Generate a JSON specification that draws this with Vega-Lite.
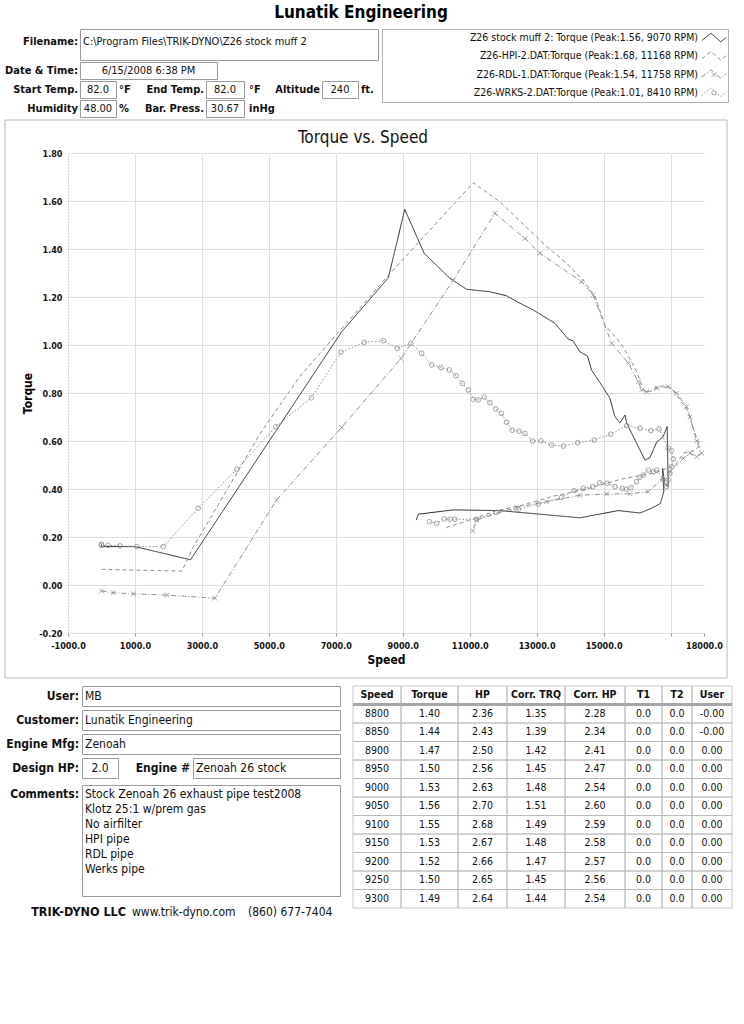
{
  "$schema": "https://vega.github.io/schema/vega-lite/v6.json",
  "padding": 0,
  "background": "white",
  "config": {
    "view": {"stroke": null},
    "font": "DejaVu Sans Condensed, Liberation Sans, sans-serif",
    "text": {"font": "DejaVu Sans Condensed, Liberation Sans, sans-serif", "fontSize": 11, "color": "#111"},
    "axis": {"labelFont": "DejaVu Sans Condensed, Liberation Sans, sans-serif", "titleFont": "DejaVu Sans Condensed, Liberation Sans, sans-serif"},
    "title": {"font": "DejaVu Sans Condensed, Liberation Sans, sans-serif"}
  },
  "datasets": {
    "series": [
      {"s": "stock", "label": "Z26 stock muff 2: Torque (Peak:1.56, 9070 RPM)"},
      {"s": "hpi", "label": "Z26-HPI-2.DAT:Torque (Peak:1.68, 11168 RPM)"},
      {"s": "rdl", "label": "Z26-RDL-1.DAT:Torque (Peak:1.54, 11758 RPM)"},
      {"s": "wrks", "label": "Z26-WRKS-2.DAT:Torque (Peak:1.01, 8410 RPM)"}
    ],
    "run": [
      {"f": "Title", "label": "Lunatik Engineering"},
      {"f": "Filename", "label": "Filename:", "value": "C:\\Program Files\\TRIK-DYNO\\Z26 stock muff 2"},
      {"f": "Date", "label": "Date & Time:", "value": "6/15/2008 6:38 PM"},
      {"f": "Start", "label": "Start Temp.", "value": "82.0", "unit": "°F"},
      {"f": "End", "label": "End Temp.", "value": "82.0", "unit": "°F"},
      {"f": "Alt", "label": "Altitude", "value": "240", "unit": "ft."},
      {"f": "Hum", "label": "Humidity", "value": "48.00", "unit": "%"},
      {"f": "Bar", "label": "Bar. Press.", "value": "30.67", "unit": "inHg"}
    ],
    "form": [
      {"f": "User", "label": "User:", "value": "MB"},
      {"f": "Customer", "label": "Customer:", "value": "Lunatik Engineering"},
      {"f": "Engine Mfg", "label": "Engine Mfg:", "value": "Zenoah"},
      {"f": "Design HP", "label": "Design HP:", "value": "2.0"},
      {"f": "Engine #", "label": "Engine #", "value": "Zenoah 26 stock"},
      {"f": "Comments", "label": "Comments:", "value": ["Stock Zenoah 26 exhaust pipe test2008", "Klotz 25:1 w/prem gas", "No airfilter", "HPI pipe", "RDL pipe", "Werks pipe"]},
      {"f": "Maker", "label": "TRIK-DYNO LLC", "value": "www.trik-dyno.com", "phone": "(860) 677-7404"}
    ],
    "table": [
      {"r": "h", "Speed": "Speed", "Torque": "Torque", "HP": "HP", "CorrTRQ": "Corr. TRQ", "CorrHP": "Corr. HP", "T1": "T1", "T2": "T2", "User": "User"},
      {"r": "1", "Speed": "8800", "Torque": "1.40", "HP": "2.36", "CorrTRQ": "1.35", "CorrHP": "2.28", "T1": "0.0", "T2": "0.0", "User": "-0.00"},
      {"r": "2", "Speed": "8850", "Torque": "1.44", "HP": "2.43", "CorrTRQ": "1.39", "CorrHP": "2.34", "T1": "0.0", "T2": "0.0", "User": "-0.00"},
      {"r": "3", "Speed": "8900", "Torque": "1.47", "HP": "2.50", "CorrTRQ": "1.42", "CorrHP": "2.41", "T1": "0.0", "T2": "0.0", "User": "0.00"},
      {"r": "4", "Speed": "8950", "Torque": "1.50", "HP": "2.56", "CorrTRQ": "1.45", "CorrHP": "2.47", "T1": "0.0", "T2": "0.0", "User": "0.00"},
      {"r": "5", "Speed": "9000", "Torque": "1.53", "HP": "2.63", "CorrTRQ": "1.48", "CorrHP": "2.54", "T1": "0.0", "T2": "0.0", "User": "0.00"},
      {"r": "6", "Speed": "9050", "Torque": "1.56", "HP": "2.70", "CorrTRQ": "1.51", "CorrHP": "2.60", "T1": "0.0", "T2": "0.0", "User": "0.00"},
      {"r": "7", "Speed": "9100", "Torque": "1.55", "HP": "2.68", "CorrTRQ": "1.49", "CorrHP": "2.59", "T1": "0.0", "T2": "0.0", "User": "0.00"},
      {"r": "8", "Speed": "9150", "Torque": "1.53", "HP": "2.67", "CorrTRQ": "1.48", "CorrHP": "2.58", "T1": "0.0", "T2": "0.0", "User": "0.00"},
      {"r": "9", "Speed": "9200", "Torque": "1.52", "HP": "2.66", "CorrTRQ": "1.47", "CorrHP": "2.57", "T1": "0.0", "T2": "0.0", "User": "0.00"},
      {"r": "10", "Speed": "9250", "Torque": "1.50", "HP": "2.65", "CorrTRQ": "1.45", "CorrHP": "2.56", "T1": "0.0", "T2": "0.0", "User": "0.00"},
      {"r": "11", "Speed": "9300", "Torque": "1.49", "HP": "2.64", "CorrTRQ": "1.44", "CorrHP": "2.54", "T1": "0.0", "T2": "0.0", "User": "0.00"}
    ],
    "curves": [
      {"s": "stock", "i": 1, "rpm": 0, "tq": 0.17},
      {"s": "stock", "i": 2, "rpm": 0, "tq": 0.16},
      {"s": "stock", "i": 3, "rpm": 1000, "tq": 0.16},
      {"s": "stock", "i": 4, "rpm": 2660, "tq": 0.105},
      {"s": "stock", "i": 5, "rpm": 7175, "tq": 1.055},
      {"s": "stock", "i": 6, "rpm": 8570, "tq": 1.28},
      {"s": "stock", "i": 7, "rpm": 9060, "tq": 1.565},
      {"s": "stock", "i": 8, "rpm": 9640, "tq": 1.382},
      {"s": "stock", "i": 9, "rpm": 10410, "tq": 1.278},
      {"s": "stock", "i": 10, "rpm": 10910, "tq": 1.232},
      {"s": "stock", "i": 11, "rpm": 11600, "tq": 1.222},
      {"s": "stock", "i": 12, "rpm": 12100, "tq": 1.205},
      {"s": "stock", "i": 13, "rpm": 12500, "tq": 1.174},
      {"s": "stock", "i": 14, "rpm": 12900, "tq": 1.146},
      {"s": "stock", "i": 15, "rpm": 13550, "tq": 1.09},
      {"s": "stock", "i": 16, "rpm": 13940, "tq": 1.025},
      {"s": "stock", "i": 17, "rpm": 14090, "tq": 1.017},
      {"s": "stock", "i": 18, "rpm": 14290, "tq": 0.972},
      {"s": "stock", "i": 19, "rpm": 14520, "tq": 0.954},
      {"s": "stock", "i": 20, "rpm": 14640, "tq": 0.896},
      {"s": "stock", "i": 21, "rpm": 14940, "tq": 0.833},
      {"s": "stock", "i": 22, "rpm": 15190, "tq": 0.778},
      {"s": "stock", "i": 23, "rpm": 15340, "tq": 0.701},
      {"s": "stock", "i": 24, "rpm": 15490, "tq": 0.676},
      {"s": "stock", "i": 25, "rpm": 15640, "tq": 0.708},
      {"s": "stock", "i": 26, "rpm": 15690, "tq": 0.674},
      {"s": "stock", "i": 27, "rpm": 16235, "tq": 0.521},
      {"s": "stock", "i": 28, "rpm": 16385, "tq": 0.53},
      {"s": "stock", "i": 29, "rpm": 16585, "tq": 0.595},
      {"s": "stock", "i": 30, "rpm": 16780, "tq": 0.618},
      {"s": "stock", "i": 31, "rpm": 16900, "tq": 0.66},
      {"s": "stock", "i": 32, "rpm": 16930, "tq": 0.41},
      {"s": "stock", "i": 33, "rpm": 16830, "tq": 0.42},
      {"s": "stock", "i": 34, "rpm": 16760, "tq": 0.486},
      {"s": "stock", "i": 35, "rpm": 16800, "tq": 0.39},
      {"s": "stock", "i": 36, "rpm": 16700, "tq": 0.34},
      {"s": "stock", "i": 37, "rpm": 16435, "tq": 0.32},
      {"s": "stock", "i": 38, "rpm": 16090, "tq": 0.3},
      {"s": "stock", "i": 39, "rpm": 15440, "tq": 0.31},
      {"s": "stock", "i": 40, "rpm": 14290, "tq": 0.28},
      {"s": "stock", "i": 41, "rpm": 11900, "tq": 0.31},
      {"s": "stock", "i": 42, "rpm": 10510, "tq": 0.313},
      {"s": "stock", "i": 43, "rpm": 9465, "tq": 0.295},
      {"s": "stock", "i": 44, "rpm": 9400, "tq": 0.27},
      {"s": "hpi", "i": 1, "rpm": 0, "tq": 0.065},
      {"s": "hpi", "i": 2, "rpm": 2400, "tq": 0.058},
      {"s": "hpi", "i": 3, "rpm": 2750, "tq": 0.16},
      {"s": "hpi", "i": 4, "rpm": 4735, "tq": 0.63},
      {"s": "hpi", "i": 5, "rpm": 5930, "tq": 0.87},
      {"s": "hpi", "i": 6, "rpm": 8570, "tq": 1.29},
      {"s": "hpi", "i": 7, "rpm": 11110, "tq": 1.676},
      {"s": "hpi", "i": 8, "rpm": 11900, "tq": 1.597},
      {"s": "hpi", "i": 9, "rpm": 13300, "tq": 1.41},
      {"s": "hpi", "i": 10, "rpm": 13900, "tq": 1.34},
      {"s": "hpi", "i": 11, "rpm": 14390, "tq": 1.27},
      {"s": "hpi", "i": 12, "rpm": 14740, "tq": 1.204},
      {"s": "hpi", "i": 13, "rpm": 15040, "tq": 1.083},
      {"s": "hpi", "i": 14, "rpm": 15440, "tq": 1.02},
      {"s": "hpi", "i": 15, "rpm": 15640, "tq": 0.979},
      {"s": "hpi", "i": 16, "rpm": 15940, "tq": 0.903},
      {"s": "hpi", "i": 17, "rpm": 16090, "tq": 0.854},
      {"s": "hpi", "i": 18, "rpm": 16190, "tq": 0.8125},
      {"s": "hpi", "i": 19, "rpm": 16385, "tq": 0.805},
      {"s": "hpi", "i": 20, "rpm": 16585, "tq": 0.826},
      {"s": "hpi", "i": 21, "rpm": 16830, "tq": 0.83},
      {"s": "hpi", "i": 22, "rpm": 17030, "tq": 0.82},
      {"s": "hpi", "i": 23, "rpm": 17280, "tq": 0.771},
      {"s": "hpi", "i": 24, "rpm": 17530, "tq": 0.722},
      {"s": "hpi", "i": 25, "rpm": 17730, "tq": 0.632},
      {"s": "hpi", "i": 26, "rpm": 17880, "tq": 0.58},
      {"s": "hpi", "i": 27, "rpm": 17700, "tq": 0.56},
      {"s": "hpi", "i": 28, "rpm": 17400, "tq": 0.55},
      {"s": "hpi", "i": 29, "rpm": 17130, "tq": 0.5},
      {"s": "hpi", "i": 30, "rpm": 16600, "tq": 0.47},
      {"s": "hpi", "i": 31, "rpm": 15500, "tq": 0.44},
      {"s": "hpi", "i": 32, "rpm": 14500, "tq": 0.4},
      {"s": "hpi", "i": 33, "rpm": 13500, "tq": 0.37},
      {"s": "hpi", "i": 34, "rpm": 12500, "tq": 0.33},
      {"s": "hpi", "i": 35, "rpm": 11800, "tq": 0.31},
      {"s": "hpi", "i": 36, "rpm": 11000, "tq": 0.27},
      {"s": "hpi", "i": 37, "rpm": 10210, "tq": 0.236},
      {"s": "rdl", "i": 1, "rpm": 0, "tq": -0.025},
      {"s": "rdl", "i": 2, "rpm": 350, "tq": -0.032},
      {"s": "rdl", "i": 3, "rpm": 950, "tq": -0.037},
      {"s": "rdl", "i": 4, "rpm": 1950, "tq": -0.042},
      {"s": "rdl", "i": 5, "rpm": 3390, "tq": -0.055},
      {"s": "rdl", "i": 6, "rpm": 5230, "tq": 0.354},
      {"s": "rdl", "i": 7, "rpm": 7175, "tq": 0.657},
      {"s": "rdl", "i": 8, "rpm": 8950, "tq": 0.944},
      {"s": "rdl", "i": 9, "rpm": 10510, "tq": 1.27},
      {"s": "rdl", "i": 10, "rpm": 11755, "tq": 1.549},
      {"s": "rdl", "i": 11, "rpm": 12650, "tq": 1.444},
      {"s": "rdl", "i": 12, "rpm": 13100, "tq": 1.382},
      {"s": "rdl", "i": 13, "rpm": 14340, "tq": 1.264},
      {"s": "rdl", "i": 14, "rpm": 14690, "tq": 1.208},
      {"s": "rdl", "i": 15, "rpm": 15240, "tq": 1.007},
      {"s": "rdl", "i": 16, "rpm": 15740, "tq": 0.924},
      {"s": "rdl", "i": 17, "rpm": 16040, "tq": 0.847},
      {"s": "rdl", "i": 18, "rpm": 16135, "tq": 0.8125},
      {"s": "rdl", "i": 19, "rpm": 16285, "tq": 0.805},
      {"s": "rdl", "i": 20, "rpm": 16600, "tq": 0.82},
      {"s": "rdl", "i": 21, "rpm": 16930, "tq": 0.826},
      {"s": "rdl", "i": 22, "rpm": 17180, "tq": 0.799},
      {"s": "rdl", "i": 23, "rpm": 17480, "tq": 0.743},
      {"s": "rdl", "i": 24, "rpm": 17580, "tq": 0.7},
      {"s": "rdl", "i": 25, "rpm": 17780, "tq": 0.6},
      {"s": "rdl", "i": 26, "rpm": 17930, "tq": 0.549},
      {"s": "rdl", "i": 27, "rpm": 17780, "tq": 0.535},
      {"s": "rdl", "i": 28, "rpm": 17580, "tq": 0.549},
      {"s": "rdl", "i": 29, "rpm": 17380, "tq": 0.528},
      {"s": "rdl", "i": 30, "rpm": 16980, "tq": 0.472},
      {"s": "rdl", "i": 31, "rpm": 16335, "tq": 0.389},
      {"s": "rdl", "i": 32, "rpm": 15790, "tq": 0.38},
      {"s": "rdl", "i": 33, "rpm": 15090, "tq": 0.379},
      {"s": "rdl", "i": 34, "rpm": 14290, "tq": 0.374},
      {"s": "rdl", "i": 35, "rpm": 13300, "tq": 0.347},
      {"s": "rdl", "i": 36, "rpm": 12400, "tq": 0.324},
      {"s": "rdl", "i": 37, "rpm": 11210, "tq": 0.271},
      {"s": "rdl", "i": 38, "rpm": 11090, "tq": 0.226},
      {"s": "wrks", "i": 1, "rpm": 0, "tq": 0.17},
      {"s": "wrks", "i": 2, "rpm": 0, "tq": 0.165},
      {"s": "wrks", "i": 3, "rpm": 200, "tq": 0.165},
      {"s": "wrks", "i": 4, "rpm": 550, "tq": 0.163},
      {"s": "wrks", "i": 5, "rpm": 1050, "tq": 0.16},
      {"s": "wrks", "i": 6, "rpm": 1850, "tq": 0.16},
      {"s": "wrks", "i": 7, "rpm": 2890, "tq": 0.32},
      {"s": "wrks", "i": 8, "rpm": 4040, "tq": 0.482},
      {"s": "wrks", "i": 9, "rpm": 5210, "tq": 0.66},
      {"s": "wrks", "i": 10, "rpm": 6270, "tq": 0.78},
      {"s": "wrks", "i": 11, "rpm": 7150, "tq": 0.97},
      {"s": "wrks", "i": 12, "rpm": 7850, "tq": 1.011},
      {"s": "wrks", "i": 13, "rpm": 8420, "tq": 1.018},
      {"s": "wrks", "i": 14, "rpm": 8840, "tq": 0.986},
      {"s": "wrks", "i": 15, "rpm": 9240, "tq": 1.007},
      {"s": "wrks", "i": 16, "rpm": 9565, "tq": 0.965},
      {"s": "wrks", "i": 17, "rpm": 9865, "tq": 0.917},
      {"s": "wrks", "i": 18, "rpm": 10140, "tq": 0.906},
      {"s": "wrks", "i": 19, "rpm": 10390, "tq": 0.896},
      {"s": "wrks", "i": 20, "rpm": 10590, "tq": 0.872},
      {"s": "wrks", "i": 21, "rpm": 10780, "tq": 0.84},
      {"s": "wrks", "i": 22, "rpm": 10960, "tq": 0.8125},
      {"s": "wrks", "i": 23, "rpm": 11105, "tq": 0.774},
      {"s": "wrks", "i": 24, "rpm": 11255, "tq": 0.771},
      {"s": "wrks", "i": 25, "rpm": 11435, "tq": 0.783},
      {"s": "wrks", "i": 26, "rpm": 11605, "tq": 0.76},
      {"s": "wrks", "i": 27, "rpm": 11780, "tq": 0.733},
      {"s": "wrks", "i": 28, "rpm": 11950, "tq": 0.715},
      {"s": "wrks", "i": 29, "rpm": 12100, "tq": 0.678},
      {"s": "wrks", "i": 30, "rpm": 12270, "tq": 0.645},
      {"s": "wrks", "i": 31, "rpm": 12470, "tq": 0.641},
      {"s": "wrks", "i": 32, "rpm": 12650, "tq": 0.632},
      {"s": "wrks", "i": 33, "rpm": 12880, "tq": 0.6},
      {"s": "wrks", "i": 34, "rpm": 13130, "tq": 0.601},
      {"s": "wrks", "i": 35, "rpm": 13450, "tq": 0.583},
      {"s": "wrks", "i": 36, "rpm": 13795, "tq": 0.579},
      {"s": "wrks", "i": 37, "rpm": 14225, "tq": 0.593},
      {"s": "wrks", "i": 38, "rpm": 14720, "tq": 0.604},
      {"s": "wrks", "i": 39, "rpm": 15210, "tq": 0.628},
      {"s": "wrks", "i": 40, "rpm": 15690, "tq": 0.664},
      {"s": "wrks", "i": 41, "rpm": 16085, "tq": 0.653},
      {"s": "wrks", "i": 42, "rpm": 16415, "tq": 0.643},
      {"s": "wrks", "i": 43, "rpm": 16660, "tq": 0.65},
      {"s": "wrks", "i": 44, "rpm": 16930, "tq": 0.57},
      {"s": "wrks", "i": 45, "rpm": 17030, "tq": 0.56},
      {"s": "wrks", "i": 46, "rpm": 17080, "tq": 0.524},
      {"s": "wrks", "i": 47, "rpm": 17030, "tq": 0.493},
      {"s": "wrks", "i": 48, "rpm": 16980, "tq": 0.465},
      {"s": "wrks", "i": 49, "rpm": 16930, "tq": 0.4375},
      {"s": "wrks", "i": 50, "rpm": 16880, "tq": 0.41},
      {"s": "wrks", "i": 51, "rpm": 16780, "tq": 0.44},
      {"s": "wrks", "i": 52, "rpm": 16585, "tq": 0.479},
      {"s": "wrks", "i": 53, "rpm": 16485, "tq": 0.472},
      {"s": "wrks", "i": 54, "rpm": 16335, "tq": 0.479},
      {"s": "wrks", "i": 55, "rpm": 16185, "tq": 0.458},
      {"s": "wrks", "i": 56, "rpm": 16085, "tq": 0.449},
      {"s": "wrks", "i": 57, "rpm": 15985, "tq": 0.43},
      {"s": "wrks", "i": 58, "rpm": 15815, "tq": 0.405},
      {"s": "wrks", "i": 59, "rpm": 15690, "tq": 0.399},
      {"s": "wrks", "i": 60, "rpm": 15555, "tq": 0.403},
      {"s": "wrks", "i": 61, "rpm": 15340, "tq": 0.41},
      {"s": "wrks", "i": 62, "rpm": 15110, "tq": 0.424},
      {"s": "wrks", "i": 63, "rpm": 14890, "tq": 0.426},
      {"s": "wrks", "i": 64, "rpm": 14675, "tq": 0.41},
      {"s": "wrks", "i": 65, "rpm": 14395, "tq": 0.403},
      {"s": "wrks", "i": 66, "rpm": 14115, "tq": 0.393},
      {"s": "wrks", "i": 67, "rpm": 13745, "tq": 0.365},
      {"s": "wrks", "i": 68, "rpm": 13050, "tq": 0.3375},
      {"s": "wrks", "i": 69, "rpm": 12450, "tq": 0.315},
      {"s": "wrks", "i": 70, "rpm": 11805, "tq": 0.303},
      {"s": "wrks", "i": 71, "rpm": 11205, "tq": 0.274},
      {"s": "wrks", "i": 72, "rpm": 10560, "tq": 0.274},
      {"s": "wrks", "i": 73, "rpm": 10410, "tq": 0.274},
      {"s": "wrks", "i": 74, "rpm": 10240, "tq": 0.275},
      {"s": "wrks", "i": 75, "rpm": 10010, "tq": 0.257},
      {"s": "wrks", "i": 76, "rpm": 9795, "tq": 0.264}
    ]
  },
  "vconcat": [
    {
      "vconcat": [
        {
          "vconcat": [
            {"width": 722, "height": 26, "data": {"name": "run"}, "transform": [{"filter": "datum.f === 'Title'"}], "mark": {"type": "text", "fontSize": 17, "fontWeight": "bold", "color": "#000"}, "encoding": {"text": {"field": "label"}}},
            {
              "hconcat": [
                {
                  "vconcat": [
                    {"hconcat": [
                      {"width": 80, "height": 31, "data": {"name": "run"}, "transform": [{"filter": "datum.f === 'Filename'"}], "mark": {"type": "text", "align": "right", "dx": -2, "dy": -3, "fontWeight": "bold"}, "encoding": {"x": {"datum": "c", "type": "nominal", "bandPosition": 1, "axis": null, "scale": {"type": "band", "paddingInner": 0, "paddingOuter": 0}}, "text": {"field": "label"}}},
                      {"width": 298, "height": 31, "view": {"stroke": "#9a9a9a"}, "data": {"name": "run"}, "transform": [{"filter": "datum.f === 'Filename'"}], "mark": {"type": "text", "align": "left", "dx": 3, "dy": -3}, "encoding": {"x": {"datum": "c", "type": "nominal", "bandPosition": 0, "axis": null, "scale": {"type": "band", "paddingInner": 0, "paddingOuter": 0}}, "text": {"field": "value"}}}
                    ], "spacing": 0, "bounds": "flush"},
                    {"hconcat": [
                      {"width": 80, "height": 17, "data": {"name": "run"}, "transform": [{"filter": "datum.f === 'Date'"}], "mark": {"type": "text", "align": "right", "dx": -2, "fontWeight": "bold"}, "encoding": {"x": {"datum": "c", "type": "nominal", "bandPosition": 1, "axis": null, "scale": {"type": "band", "paddingInner": 0, "paddingOuter": 0}}, "text": {"field": "label"}}},
                      {"width": 137, "height": 17, "view": {"stroke": "#9a9a9a"}, "data": {"name": "run"}, "transform": [{"filter": "datum.f === 'Date'"}], "mark": {"type": "text"}, "encoding": {"text": {"field": "value"}}}
                    ], "spacing": 0, "bounds": "flush"},
                    {"hconcat": [
                      {"width": 80, "height": 17, "data": {"name": "run"}, "transform": [{"filter": "datum.f === 'Start'"}], "mark": {"type": "text", "align": "right", "dx": -2, "fontWeight": "bold"}, "encoding": {"x": {"datum": "c", "type": "nominal", "bandPosition": 1, "axis": null, "scale": {"type": "band", "paddingInner": 0, "paddingOuter": 0}}, "text": {"field": "label"}}},
                      {"width": 36, "height": 17, "view": {"stroke": "#9a9a9a"}, "data": {"name": "run"}, "transform": [{"filter": "datum.f === 'Start'"}], "mark": {"type": "text"}, "encoding": {"text": {"field": "value"}}},
                      {"width": 32, "height": 17, "data": {"name": "run"}, "transform": [{"filter": "datum.f === 'Start'"}], "mark": {"type": "text", "align": "left", "dx": 3, "fontWeight": "bold"}, "encoding": {"x": {"datum": "c", "type": "nominal", "bandPosition": 0, "axis": null, "scale": {"type": "band", "paddingInner": 0, "paddingOuter": 0}}, "text": {"field": "unit"}}},
                      {"width": 58, "height": 17, "data": {"name": "run"}, "transform": [{"filter": "datum.f === 'End'"}], "mark": {"type": "text", "align": "right", "dx": -2, "fontWeight": "bold"}, "encoding": {"x": {"datum": "c", "type": "nominal", "bandPosition": 1, "axis": null, "scale": {"type": "band", "paddingInner": 0, "paddingOuter": 0}}, "text": {"field": "label"}}},
                      {"width": 38, "height": 17, "view": {"stroke": "#9a9a9a"}, "data": {"name": "run"}, "transform": [{"filter": "datum.f === 'End'"}], "mark": {"type": "text"}, "encoding": {"text": {"field": "value"}}},
                      {"width": 30, "height": 17, "data": {"name": "run"}, "transform": [{"filter": "datum.f === 'End'"}], "mark": {"type": "text", "align": "left", "dx": 5, "fontWeight": "bold"}, "encoding": {"x": {"datum": "c", "type": "nominal", "bandPosition": 0, "axis": null, "scale": {"type": "band", "paddingInner": 0, "paddingOuter": 0}}, "text": {"field": "unit"}}},
                      {"width": 48, "height": 17, "data": {"name": "run"}, "transform": [{"filter": "datum.f === 'Alt'"}], "mark": {"type": "text", "align": "right", "dx": -2, "fontWeight": "bold"}, "encoding": {"x": {"datum": "c", "type": "nominal", "bandPosition": 1, "axis": null, "scale": {"type": "band", "paddingInner": 0, "paddingOuter": 0}}, "text": {"field": "label"}}},
                      {"width": 36, "height": 17, "view": {"stroke": "#9a9a9a"}, "data": {"name": "run"}, "transform": [{"filter": "datum.f === 'Alt'"}], "mark": {"type": "text"}, "encoding": {"text": {"field": "value"}}},
                      {"width": 20, "height": 17, "data": {"name": "run"}, "transform": [{"filter": "datum.f === 'Alt'"}], "mark": {"type": "text", "align": "left", "dx": 3, "fontWeight": "bold"}, "encoding": {"x": {"datum": "c", "type": "nominal", "bandPosition": 0, "axis": null, "scale": {"type": "band", "paddingInner": 0, "paddingOuter": 0}}, "text": {"field": "unit"}}}
                    ], "spacing": 0, "bounds": "flush"},
                    {"hconcat": [
                      {"width": 80, "height": 17, "data": {"name": "run"}, "transform": [{"filter": "datum.f === 'Hum'"}], "mark": {"type": "text", "align": "right", "dx": -2, "fontWeight": "bold"}, "encoding": {"x": {"datum": "c", "type": "nominal", "bandPosition": 1, "axis": null, "scale": {"type": "band", "paddingInner": 0, "paddingOuter": 0}}, "text": {"field": "label"}}},
                      {"width": 36, "height": 17, "view": {"stroke": "#9a9a9a"}, "data": {"name": "run"}, "transform": [{"filter": "datum.f === 'Hum'"}], "mark": {"type": "text"}, "encoding": {"text": {"field": "value"}}},
                      {"width": 32, "height": 17, "data": {"name": "run"}, "transform": [{"filter": "datum.f === 'Hum'"}], "mark": {"type": "text", "align": "left", "dx": 3, "fontWeight": "bold"}, "encoding": {"x": {"datum": "c", "type": "nominal", "bandPosition": 0, "axis": null, "scale": {"type": "band", "paddingInner": 0, "paddingOuter": 0}}, "text": {"field": "unit"}}},
                      {"width": 58, "height": 17, "data": {"name": "run"}, "transform": [{"filter": "datum.f === 'Bar'"}], "mark": {"type": "text", "align": "right", "dx": -2, "fontWeight": "bold"}, "encoding": {"x": {"datum": "c", "type": "nominal", "bandPosition": 1, "axis": null, "scale": {"type": "band", "paddingInner": 0, "paddingOuter": 0}}, "text": {"field": "label"}}},
                      {"width": 38, "height": 17, "view": {"stroke": "#9a9a9a"}, "data": {"name": "run"}, "transform": [{"filter": "datum.f === 'Bar'"}], "mark": {"type": "text"}, "encoding": {"text": {"field": "value"}}},
                      {"width": 46, "height": 17, "data": {"name": "run"}, "transform": [{"filter": "datum.f === 'Bar'"}], "mark": {"type": "text", "align": "left", "dx": 5, "fontWeight": "bold"}, "encoding": {"x": {"datum": "c", "type": "nominal", "bandPosition": 0, "axis": null, "scale": {"type": "band", "paddingInner": 0, "paddingOuter": 0}}, "text": {"field": "unit"}}}
                    ], "spacing": 0, "bounds": "flush"}
                  ],
                  "spacing": 0
                },
                {
                  "width": 346, "height": 73, "view": {"stroke": "#b4b4b4"}, "data": {"name": "series"},
                  "encoding": {"y": {"field": "s", "type": "nominal", "sort": null, "axis": null, "scale": {"type": "point", "padding": 0.5}}},
                  "layer": [
                    {"mark": {"type": "text", "align": "right", "dx": -2, "fontSize": 10.5}, "encoding": {
                      "x": {"datum": "label", "type": "nominal", "bandPosition": 1, "axis": null, "scale": {"type": "band", "range": [0, 318], "paddingInner": 0, "paddingOuter": 0}},
                      "text": {"field": "label"}}},
                    {"mark": {"type": "point", "shape": "M-1,0.2L-0.25,-0.4L0.55,0.3L1,-0.05", "filled": false, "size": 600, "strokeWidth": 1, "opacity": 1}, "encoding": {
                      "x": {"datum": "symbol", "type": "nominal", "axis": null, "scale": {"type": "band", "range": [318, 346], "paddingInner": 0, "paddingOuter": 0}},
                      "color": {"field": "s", "type": "nominal", "legend": null, "scale": {"domain": ["stock", "hpi", "rdl", "wrks"], "range": ["#2b2b2b", "#8e8e8e", "#8e8e8e", "#8e8e8e"]}},
                      "strokeDash": {"field": "s", "type": "nominal", "legend": null, "scale": {"domain": ["stock", "hpi", "rdl", "wrks"], "range": [[1, 0], [4, 3], [5, 2, 1, 2], [1.5, 2]]}}}},
                    {"transform": [{"filter": "datum.s === 'rdl' || datum.s === 'wrks'"}], "mark": {"type": "point", "filled": false, "size": 18, "strokeWidth": 0.8, "opacity": 1}, "encoding": {
                      "x": {"datum": "symbol", "type": "nominal", "axis": null, "scale": {"type": "band", "range": [318, 346], "paddingInner": 0, "paddingOuter": 0}},
                      "shape": {"field": "s", "type": "nominal", "legend": null, "scale": {"domain": ["rdl", "wrks"], "range": ["M-1,-1L1,1M-1,1L1,-1", "circle"]}},
                      "color": {"field": "s", "type": "nominal", "legend": null, "scale": {"domain": ["stock", "hpi", "rdl", "wrks"], "range": ["#2b2b2b", "#8e8e8e", "#8e8e8e", "#8e8e8e"]}}}}
                  ],
                  "resolve": {"scale": {"x": "independent"}}
                }
              ],
              "spacing": 2
            }
          ],
          "spacing": 2
        },
        {
          "hconcat": [
            {"width": 62, "height": 480, "data": {"values": []}, "mark": "point"},
            {
              "width": 636,
              "height": 480,
              "view": {"stroke": null},
              "title": {"text": "Torque vs. Speed", "fontSize": 17, "fontWeight": "normal", "color": "#111", "frame": "group", "anchor": "middle", "dx": -23, "offset": -27},
              "layer": [
                {
                  "data": {"values": [{"panel": "Torque vs. Speed"}]},
                  "mark": {"type": "rect", "filled": false, "color": "#b8b8b8", "strokeWidth": 1, "clip": false},
                  "encoding": {
                    "x": {"field": "panel", "type": "nominal", "axis": null, "scale": {"type": "band", "range": [-63, 659], "paddingInner": 0, "paddingOuter": 0}},
                    "y": {"field": "panel", "type": "nominal", "axis": null, "scale": {"type": "band", "range": [-33, 525], "paddingInner": 0, "paddingOuter": 0}}
                  }
                },
                {
                  "data": {"name": "curves"},
                  "encoding": {
                    "x": {
                      "field": "rpm", "type": "quantitative", "title": "Speed",
                      "scale": {"domain": [-1000, 18000], "nice": false, "zero": false},
                      "axis": {
                        "values": [-1000, 1000, 3000, 5000, 7000, 9000, 11000, 13000, 15000, 17000, 18000],
                        "labelExpr": "datum.value === 17000 ? '' : replace(format(datum.value, '.1f'), '\u2212', '-')",
                        "grid": true, "gridColor": "#d9e0e6",
                        "gridOpacity": {"condition": {"test": "datum.value === 18000 || datum.value === -1000", "value": 0}, "value": 1},
                        "domain": false, "ticks": true, "tickSize": 3, "tickColor": "#999",
                        "labelFontSize": 9, "labelFontWeight": "bold", "labelColor": "#111", "labelPadding": 5, "labelFlush": false, "labelOverlap": false,
                        "titleFontSize": 12, "titleFontWeight": "bold", "titleColor": "#000", "titlePadding": 4
                      }
                    },
                    "y": {
                      "field": "tq", "type": "quantitative", "title": "Torque",
                      "scale": {"domain": [-0.2, 1.8], "nice": false, "zero": false},
                      "axis": {
                        "values": [-0.2, 0, 0.2, 0.4, 0.6, 0.8, 1, 1.2, 1.4, 1.6, 1.8],
                        "labelExpr": "replace(format(datum.value, '.2f'), '\u2212', '-')",
                        "grid": true, "gridColor": "#d9e0e6",
                        "domain": true, "domainColor": "#aaa", "domainDash": [1, 2],
                        "ticks": false, "labelPadding": 6,
                        "labelFontSize": 9, "labelFontWeight": "bold", "labelColor": "#111",
                        "titleFontSize": 12, "titleFontWeight": "bold", "titleColor": "#000", "titlePadding": 4
                      }
                    }
                  },
                  "layer": [
                    {"mark": {"type": "line", "strokeWidth": 1, "clip": true}, "encoding": {
                      "order": {"field": "i", "type": "quantitative"},
                      "color": {"field": "s", "type": "nominal", "legend": null, "scale": {"domain": ["stock", "hpi", "rdl", "wrks"], "range": ["#2b2b2b", "#8e8e8e", "#8e8e8e", "#8e8e8e"]}},
                      "strokeDash": {"field": "s", "type": "nominal", "legend": null, "scale": {"domain": ["stock", "hpi", "rdl", "wrks"], "range": [[1, 0], [4, 3], [5, 2, 1, 2], [1.5, 2]]}}}},
                    {"transform": [{"filter": "datum.s === 'rdl' || datum.s === 'wrks'"}], "mark": {"type": "point", "filled": false, "size": 22, "strokeWidth": 0.8, "opacity": 1}, "encoding": {
                      "shape": {"field": "s", "type": "nominal", "legend": null, "scale": {"domain": ["rdl", "wrks"], "range": ["M-1,-1L1,1M-1,1L1,-1", "circle"]}},
                      "color": {"field": "s", "type": "nominal", "legend": null, "scale": {"domain": ["stock", "hpi", "rdl", "wrks"], "range": ["#2b2b2b", "#8e8e8e", "#8e8e8e", "#8e8e8e"]}}}}
                  ]
                }
              ],
              "resolve": {"scale": {"x": "independent", "y": "independent"}}
            }
          ],
          "spacing": 6,
          "bounds": "flush"
        }
      ],
      "spacing": 1
    },
    {
      "hconcat": [
        {
          "vconcat": [
            {
              "vconcat": [
                {"hconcat": [
                  {"width": 82, "height": 20, "data": {"name": "form"}, "transform": [{"filter": "datum.f === 'User'"}], "mark": {"type": "text", "align": "right", "dx": -3, "fontWeight": "bold", "fontSize": 12}, "encoding": {"x": {"datum": "c", "type": "nominal", "bandPosition": 1, "axis": null, "scale": {"type": "band", "paddingInner": 0, "paddingOuter": 0}}, "text": {"field": "label"}}},
                  {"width": 258, "height": 20, "view": {"stroke": "#9a9a9a"}, "data": {"name": "form"}, "transform": [{"filter": "datum.f === 'User'"}], "mark": {"type": "text", "align": "left", "dx": 3, "fontSize": 12}, "encoding": {"x": {"datum": "c", "type": "nominal", "bandPosition": 0, "axis": null, "scale": {"type": "band", "paddingInner": 0, "paddingOuter": 0}}, "text": {"field": "value"}}}
                ], "spacing": 0, "bounds": "flush"},
                {"hconcat": [
                  {"width": 82, "height": 20, "data": {"name": "form"}, "transform": [{"filter": "datum.f === 'Customer'"}], "mark": {"type": "text", "align": "right", "dx": -3, "fontWeight": "bold", "fontSize": 12}, "encoding": {"x": {"datum": "c", "type": "nominal", "bandPosition": 1, "axis": null, "scale": {"type": "band", "paddingInner": 0, "paddingOuter": 0}}, "text": {"field": "label"}}},
                  {"width": 258, "height": 20, "view": {"stroke": "#9a9a9a"}, "data": {"name": "form"}, "transform": [{"filter": "datum.f === 'Customer'"}], "mark": {"type": "text", "align": "left", "dx": 3, "fontSize": 12}, "encoding": {"x": {"datum": "c", "type": "nominal", "bandPosition": 0, "axis": null, "scale": {"type": "band", "paddingInner": 0, "paddingOuter": 0}}, "text": {"field": "value"}}}
                ], "spacing": 0, "bounds": "flush"},
                {"hconcat": [
                  {"width": 82, "height": 20, "data": {"name": "form"}, "transform": [{"filter": "datum.f === 'Engine Mfg'"}], "mark": {"type": "text", "align": "right", "dx": -3, "fontWeight": "bold", "fontSize": 12}, "encoding": {"x": {"datum": "c", "type": "nominal", "bandPosition": 1, "axis": null, "scale": {"type": "band", "paddingInner": 0, "paddingOuter": 0}}, "text": {"field": "label"}}},
                  {"width": 258, "height": 20, "view": {"stroke": "#9a9a9a"}, "data": {"name": "form"}, "transform": [{"filter": "datum.f === 'Engine Mfg'"}], "mark": {"type": "text", "align": "left", "dx": 3, "fontSize": 12}, "encoding": {"x": {"datum": "c", "type": "nominal", "bandPosition": 0, "axis": null, "scale": {"type": "band", "paddingInner": 0, "paddingOuter": 0}}, "text": {"field": "value"}}}
                ], "spacing": 0, "bounds": "flush"},
                {"hconcat": [
                  {"width": 82, "height": 20, "data": {"name": "form"}, "transform": [{"filter": "datum.f === 'Design HP'"}], "mark": {"type": "text", "align": "right", "dx": -3, "fontWeight": "bold", "fontSize": 12}, "encoding": {"x": {"datum": "c", "type": "nominal", "bandPosition": 1, "axis": null, "scale": {"type": "band", "paddingInner": 0, "paddingOuter": 0}}, "text": {"field": "label"}}},
                  {"width": 36, "height": 20, "view": {"stroke": "#9a9a9a"}, "data": {"name": "form"}, "transform": [{"filter": "datum.f === 'Design HP'"}], "mark": {"type": "text", "fontSize": 12}, "encoding": {"text": {"field": "value"}}},
                  {"width": 75, "height": 20, "data": {"name": "form"}, "transform": [{"filter": "datum.f === 'Engine #'"}], "mark": {"type": "text", "align": "right", "dx": -3, "fontWeight": "bold", "fontSize": 12}, "encoding": {"x": {"datum": "c", "type": "nominal", "bandPosition": 1, "axis": null, "scale": {"type": "band", "paddingInner": 0, "paddingOuter": 0}}, "text": {"field": "label"}}},
                  {"width": 147, "height": 20, "view": {"stroke": "#9a9a9a"}, "data": {"name": "form"}, "transform": [{"filter": "datum.f === 'Engine #'"}], "mark": {"type": "text", "align": "left", "dx": 3, "fontSize": 12}, "encoding": {"x": {"datum": "c", "type": "nominal", "bandPosition": 0, "axis": null, "scale": {"type": "band", "paddingInner": 0, "paddingOuter": 0}}, "text": {"field": "value"}}}
                ], "spacing": 0, "bounds": "flush"}
              ],
              "spacing": 2
            },
            {"hconcat": [
              {"width": 82, "height": 111, "data": {"name": "form"}, "transform": [{"filter": "datum.f === 'Comments'"}], "mark": {"type": "text", "align": "right", "baseline": "top", "dx": -3, "dy": 4, "fontWeight": "bold", "fontSize": 12}, "encoding": {"x": {"datum": "c", "type": "nominal", "bandPosition": 1, "axis": null, "scale": {"type": "band", "paddingInner": 0, "paddingOuter": 0}}, "y": {"datum": "c", "type": "nominal", "bandPosition": 0, "axis": null, "scale": {"type": "band", "paddingInner": 0, "paddingOuter": 0}}, "text": {"field": "label"}}},
              {"width": 258, "height": 111, "view": {"stroke": "#9a9a9a"}, "data": {"name": "form"}, "transform": [{"filter": "datum.f === 'Comments'"}], "mark": {"type": "text", "align": "left", "baseline": "top", "dx": 3, "dy": 4, "fontSize": 12, "lineHeight": 15}, "encoding": {"x": {"datum": "c", "type": "nominal", "bandPosition": 0, "axis": null, "scale": {"type": "band", "paddingInner": 0, "paddingOuter": 0}}, "y": {"datum": "c", "type": "nominal", "bandPosition": 0, "axis": null, "scale": {"type": "band", "paddingInner": 0, "paddingOuter": 0}}, "text": {"field": "value"}}}
            ], "spacing": 0, "bounds": "flush"},
            {"hconcat": [
              {"width": 128, "height": 20, "data": {"name": "form"}, "transform": [{"filter": "datum.f === 'Maker'"}], "mark": {"type": "text", "align": "right", "dx": -2, "fontWeight": "bold", "fontSize": 12.5}, "encoding": {"x": {"datum": "c", "type": "nominal", "bandPosition": 1, "axis": null, "scale": {"type": "band", "paddingInner": 0, "paddingOuter": 0}}, "text": {"field": "label"}}},
              {"width": 116, "height": 20, "data": {"name": "form"}, "transform": [{"filter": "datum.f === 'Maker'"}], "mark": {"type": "text", "align": "left", "dx": 4, "fontSize": 12}, "encoding": {"x": {"datum": "c", "type": "nominal", "bandPosition": 0, "axis": null, "scale": {"type": "band", "paddingInner": 0, "paddingOuter": 0}}, "text": {"field": "value"}}},
              {"width": 96, "height": 20, "data": {"name": "form"}, "transform": [{"filter": "datum.f === 'Maker'"}], "mark": {"type": "text", "align": "left", "dx": 4, "fontSize": 12}, "encoding": {"x": {"datum": "c", "type": "nominal", "bandPosition": 0, "axis": null, "scale": {"type": "band", "paddingInner": 0, "paddingOuter": 0}}, "text": {"field": "phone"}}}
            ], "spacing": 0, "bounds": "flush"}
          ],
          "spacing": 5
        },
        {
          "hconcat": [
            {"width": 48, "height": 222, "data": {"name": "table"}, "encoding": {"y": {"field": "r", "type": "ordinal", "sort": null, "axis": null, "scale": {"type": "band", "paddingInner": 0, "paddingOuter": 0}}}, "layer": [
              {"mark": {"type": "rect", "filled": false, "color": "#b8b8b8", "strokeWidth": 0.8}},
              {"transform": [{"filter": "datum.r === 'h'"}], "mark": {"type": "rule", "color": "#a6a6a6", "strokeWidth": 3}, "encoding": {"y": {"field": "r", "type": "ordinal", "sort": null, "axis": null, "bandPosition": 1}}},
              {"transform": [{"filter": "datum.r === 'h'"}], "mark": {"type": "text", "fontSize": 10.5, "fontWeight": "bold"}, "encoding": {"text": {"field": "Speed"}}},
              {"transform": [{"filter": "datum.r !== 'h'"}], "mark": {"type": "text", "fontSize": 10.5}, "encoding": {"text": {"field": "Speed"}}}
            ]},
            {"width": 57, "height": 222, "data": {"name": "table"}, "encoding": {"y": {"field": "r", "type": "ordinal", "sort": null, "axis": null, "scale": {"type": "band", "paddingInner": 0, "paddingOuter": 0}}}, "layer": [
              {"mark": {"type": "rect", "filled": false, "color": "#b8b8b8", "strokeWidth": 0.8}},
              {"transform": [{"filter": "datum.r === 'h'"}], "mark": {"type": "rule", "color": "#a6a6a6", "strokeWidth": 3}, "encoding": {"y": {"field": "r", "type": "ordinal", "sort": null, "axis": null, "bandPosition": 1}}},
              {"transform": [{"filter": "datum.r === 'h'"}], "mark": {"type": "text", "fontSize": 10.5, "fontWeight": "bold"}, "encoding": {"text": {"field": "Torque"}}},
              {"transform": [{"filter": "datum.r !== 'h'"}], "mark": {"type": "text", "fontSize": 10.5}, "encoding": {"text": {"field": "Torque"}}}
            ]},
            {"width": 49, "height": 222, "data": {"name": "table"}, "encoding": {"y": {"field": "r", "type": "ordinal", "sort": null, "axis": null, "scale": {"type": "band", "paddingInner": 0, "paddingOuter": 0}}}, "layer": [
              {"mark": {"type": "rect", "filled": false, "color": "#b8b8b8", "strokeWidth": 0.8}},
              {"transform": [{"filter": "datum.r === 'h'"}], "mark": {"type": "rule", "color": "#a6a6a6", "strokeWidth": 3}, "encoding": {"y": {"field": "r", "type": "ordinal", "sort": null, "axis": null, "bandPosition": 1}}},
              {"transform": [{"filter": "datum.r === 'h'"}], "mark": {"type": "text", "fontSize": 10.5, "fontWeight": "bold"}, "encoding": {"text": {"field": "HP"}}},
              {"transform": [{"filter": "datum.r !== 'h'"}], "mark": {"type": "text", "fontSize": 10.5}, "encoding": {"text": {"field": "HP"}}}
            ]},
            {"width": 58, "height": 222, "data": {"name": "table"}, "encoding": {"y": {"field": "r", "type": "ordinal", "sort": null, "axis": null, "scale": {"type": "band", "paddingInner": 0, "paddingOuter": 0}}}, "layer": [
              {"mark": {"type": "rect", "filled": false, "color": "#b8b8b8", "strokeWidth": 0.8}},
              {"transform": [{"filter": "datum.r === 'h'"}], "mark": {"type": "rule", "color": "#a6a6a6", "strokeWidth": 3}, "encoding": {"y": {"field": "r", "type": "ordinal", "sort": null, "axis": null, "bandPosition": 1}}},
              {"transform": [{"filter": "datum.r === 'h'"}], "mark": {"type": "text", "fontSize": 10.5, "fontWeight": "bold"}, "encoding": {"text": {"field": "CorrTRQ"}}},
              {"transform": [{"filter": "datum.r !== 'h'"}], "mark": {"type": "text", "fontSize": 10.5}, "encoding": {"text": {"field": "CorrTRQ"}}}
            ]},
            {"width": 60, "height": 222, "data": {"name": "table"}, "encoding": {"y": {"field": "r", "type": "ordinal", "sort": null, "axis": null, "scale": {"type": "band", "paddingInner": 0, "paddingOuter": 0}}}, "layer": [
              {"mark": {"type": "rect", "filled": false, "color": "#b8b8b8", "strokeWidth": 0.8}},
              {"transform": [{"filter": "datum.r === 'h'"}], "mark": {"type": "rule", "color": "#a6a6a6", "strokeWidth": 3}, "encoding": {"y": {"field": "r", "type": "ordinal", "sort": null, "axis": null, "bandPosition": 1}}},
              {"transform": [{"filter": "datum.r === 'h'"}], "mark": {"type": "text", "fontSize": 10.5, "fontWeight": "bold"}, "encoding": {"text": {"field": "CorrHP"}}},
              {"transform": [{"filter": "datum.r !== 'h'"}], "mark": {"type": "text", "fontSize": 10.5}, "encoding": {"text": {"field": "CorrHP"}}}
            ]},
            {"width": 37, "height": 222, "data": {"name": "table"}, "encoding": {"y": {"field": "r", "type": "ordinal", "sort": null, "axis": null, "scale": {"type": "band", "paddingInner": 0, "paddingOuter": 0}}}, "layer": [
              {"mark": {"type": "rect", "filled": false, "color": "#b8b8b8", "strokeWidth": 0.8}},
              {"transform": [{"filter": "datum.r === 'h'"}], "mark": {"type": "rule", "color": "#a6a6a6", "strokeWidth": 3}, "encoding": {"y": {"field": "r", "type": "ordinal", "sort": null, "axis": null, "bandPosition": 1}}},
              {"transform": [{"filter": "datum.r === 'h'"}], "mark": {"type": "text", "fontSize": 10.5, "fontWeight": "bold"}, "encoding": {"text": {"field": "T1"}}},
              {"transform": [{"filter": "datum.r !== 'h'"}], "mark": {"type": "text", "fontSize": 10.5}, "encoding": {"text": {"field": "T1"}}}
            ]},
            {"width": 30, "height": 222, "data": {"name": "table"}, "encoding": {"y": {"field": "r", "type": "ordinal", "sort": null, "axis": null, "scale": {"type": "band", "paddingInner": 0, "paddingOuter": 0}}}, "layer": [
              {"mark": {"type": "rect", "filled": false, "color": "#b8b8b8", "strokeWidth": 0.8}},
              {"transform": [{"filter": "datum.r === 'h'"}], "mark": {"type": "rule", "color": "#a6a6a6", "strokeWidth": 3}, "encoding": {"y": {"field": "r", "type": "ordinal", "sort": null, "axis": null, "bandPosition": 1}}},
              {"transform": [{"filter": "datum.r === 'h'"}], "mark": {"type": "text", "fontSize": 10.5, "fontWeight": "bold"}, "encoding": {"text": {"field": "T2"}}},
              {"transform": [{"filter": "datum.r !== 'h'"}], "mark": {"type": "text", "fontSize": 10.5}, "encoding": {"text": {"field": "T2"}}}
            ]},
            {"width": 40, "height": 222, "data": {"name": "table"}, "encoding": {"y": {"field": "r", "type": "ordinal", "sort": null, "axis": null, "scale": {"type": "band", "paddingInner": 0, "paddingOuter": 0}}}, "layer": [
              {"mark": {"type": "rect", "filled": false, "color": "#b8b8b8", "strokeWidth": 0.8}},
              {"transform": [{"filter": "datum.r === 'h'"}], "mark": {"type": "rule", "color": "#a6a6a6", "strokeWidth": 3}, "encoding": {"y": {"field": "r", "type": "ordinal", "sort": null, "axis": null, "bandPosition": 1}}},
              {"transform": [{"filter": "datum.r === 'h'"}], "mark": {"type": "text", "fontSize": 10.5, "fontWeight": "bold"}, "encoding": {"text": {"field": "User"}}},
              {"transform": [{"filter": "datum.r !== 'h'"}], "mark": {"type": "text", "fontSize": 10.5}, "encoding": {"text": {"field": "User"}}}
            ]}
          ],
          "spacing": 0,
          "bounds": "flush"
        }
      ],
      "spacing": 10
    }
  ],
  "spacing": 6
}
